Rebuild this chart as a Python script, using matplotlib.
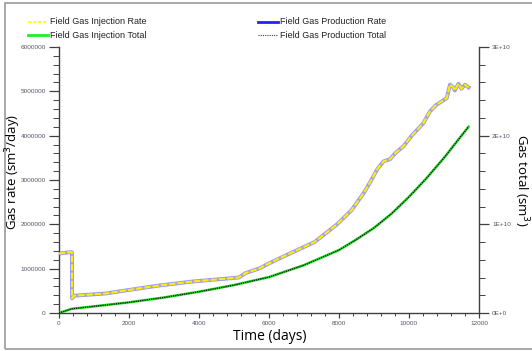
"""Field gas injection / production rate and total versus time."""

import matplotlib

matplotlib.use("Agg")
import matplotlib.pyplot as plt
from matplotlib.lines import Line2D
from matplotlib.patches import Rectangle
from matplotlib.ticker import FuncFormatter, MultipleLocator

# Gas rate (sm3/day) - injection and production follow the same curve
rate_days = [0, 300, 370, 372, 430, 1330, 2000, 2860, 3810, 5140, 5330, 5740, 6000,
             6700, 7300, 7930, 8360, 8700, 8890, 9100, 9270, 9460, 9600, 9840, 10100,
             10410, 10600, 10790, 10950, 11080, 11170, 11250, 11310, 11410, 11500,
             11600, 11700]
gas_rate = [1.34e6, 1.37e6, 1.37e6, 0.33e6, 0.39e6, 0.44e6, 0.52e6, 0.62e6, 0.71e6,
            0.80e6, 0.90e6, 1.01e6, 1.12e6, 1.38e6, 1.60e6, 1.99e6, 2.32e6, 2.70e6,
            2.95e6, 3.25e6, 3.42e6, 3.47e6, 3.60e6, 3.76e6, 4.02e6, 4.28e6, 4.55e6,
            4.70e6, 4.78e6, 4.85e6, 5.15e6, 5.10e6, 5.02e6, 5.17e6, 5.06e6, 5.15e6,
            5.09e6]

# Gas total (sm3)
total_days = [0, 360, 1000, 2000, 3000, 4000, 5000, 6000, 7000, 8000, 8500, 9000,
              9500, 10000, 10500, 11000, 11700]
gas_total = [0, 0.47e9, 0.75e9, 1.2e9, 1.75e9, 2.4e9, 3.15e9, 4.05e9, 5.4e9, 7.1e9,
             8.3e9, 9.6e9, 1.12e10, 1.31e10, 1.52e10, 1.75e10, 2.1e10]

W, H = 532, 351
TICK_COLOR = "#555566"
SPINE_COLOR = "#404040"


def px(x, y):
    """Pixel position (top-left origin) to figure fraction."""
    return x / W, 1 - y / H


def sci_fmt(v, _pos):
    if v == 0:
        return "0E+0"
    return f"{v / 1e10:.0f}E+10"


def create_plot() -> None:
    fig = plt.figure(figsize=(W / 100, H / 100), dpi=100)
    ax = fig.add_axes([59 / W, 1 - 313 / H, 420 / W, 266 / H])
    ax2 = ax.twinx()

    # Rate curves: blue production under yellow dashed injection
    ax.plot(rate_days, gas_rate, color="#4444ff", lw=2.8, alpha=0.55, zorder=2)
    ax.plot(rate_days, gas_rate, color="#b0b0a0", lw=1.2, zorder=3)
    ax.plot(rate_days, gas_rate, color="#ffee00", lw=1.5, ls=(0, (3, 1)), zorder=4)

    # Total curves
    ax2.plot(total_days, gas_total, color="#22cc22", lw=1.8, zorder=2)
    ax2.plot(total_days, gas_total, color="black", lw=0.8, ls=(0, (1, 1)), zorder=3)

    ax.set_xlim(0, 12000)
    ax.set_ylim(0, 6000000)
    ax2.set_ylim(0, 3e10)

    ax.xaxis.set_major_locator(MultipleLocator(2000))
    ax.xaxis.set_minor_locator(MultipleLocator(400))
    ax.yaxis.set_major_locator(MultipleLocator(1000000))
    ax.yaxis.set_minor_locator(MultipleLocator(200000))
    ax2.yaxis.set_major_locator(MultipleLocator(1e10))
    ax2.yaxis.set_minor_locator(MultipleLocator(2e9))
    ax.yaxis.set_major_formatter(FuncFormatter(lambda v, p: f"{v:.0f}"))
    ax2.yaxis.set_major_formatter(FuncFormatter(sci_fmt))

    for a in (ax, ax2):
        a.spines["top"].set_visible(False)
        for s in a.spines.values():
            s.set_color(SPINE_COLOR)
            s.set_linewidth(1.0)
    ax.spines["right"].set_visible(False)
    ax2.spines["left"].set_visible(False)
    ax2.spines["bottom"].set_visible(False)

    ax.tick_params(axis="y", which="major", length=7.5, width=0.9, pad=2,
                   labelsize=4.6, labelcolor=TICK_COLOR, color=SPINE_COLOR)
    ax.tick_params(axis="y", which="minor", length=4.3, width=0.7, color=SPINE_COLOR)
    ax.tick_params(axis="x", which="major", length=3.5, width=0.9, pad=2.5,
                   labelsize=4.6, labelcolor=TICK_COLOR, color=SPINE_COLOR)
    ax.tick_params(axis="x", which="minor", length=2.5, width=0.7, color=SPINE_COLOR)
    ax2.tick_params(axis="y", which="major", length=7.5, width=0.9, pad=2,
                    labelsize=4.6, labelcolor=TICK_COLOR, color=SPINE_COLOR)
    ax2.tick_params(axis="y", which="minor", length=4.3, width=0.7, color=SPINE_COLOR)
    for lbl in ax.get_xticklabels() + ax.get_yticklabels() + ax2.get_yticklabels():
        lbl.set_fontfamily("Liberation Sans")

    # Axis titles
    fig.text(*px(13, 172), "Gas rate (sm$^3$/day)", rotation=90, ha="center",
             va="center", fontsize=9.5, family="Open Sans")
    fig.text(*px(521, 180), "Gas total (sm$^3$)", rotation=270, ha="center",
             va="center", fontsize=9.5, family="Open Sans")
    fig.text(*px(270, 336), "Time (days)", ha="center", va="center",
             fontsize=10, family="Open Sans")

    # Legend
    entries = [
        (28, 22, dict(color="#ffff00", lw=1.2, ls=(0, (2, 1))), "Field Gas Injection Rate"),
        (28, 35, dict(color="#22ee22", lw=2.0), "Field Gas Injection Total"),
        (258, 22, dict(color="#2222ff", lw=2.0), "Field Gas Production Rate"),
        (258, 35, dict(color="#444444", lw=0.8, ls=(0, (1, 1))), "Field Gas Production Total"),
    ]
    for x0, y0, style, label in entries:
        (fx0, fy), (fx1, _) = px(x0, y0), px(x0 + 20, y0)
        fig.add_artist(Line2D([fx0, fx1], [fy, fy], **style))
        fig.text(*px(x0 + 22, y0), label, ha="left", va="center", fontsize=6.5,
                 family="Liberation Sans", color="#222222")

    # Outer frame
    fig.add_artist(Rectangle(px(5, 349), 540 / W, 346 / H, fill=False,
                             edgecolor="#999999", lw=1.2, clip_on=False))

    fig.savefig("out.png", dpi=100)


if __name__ == "__main__":
    create_plot()
